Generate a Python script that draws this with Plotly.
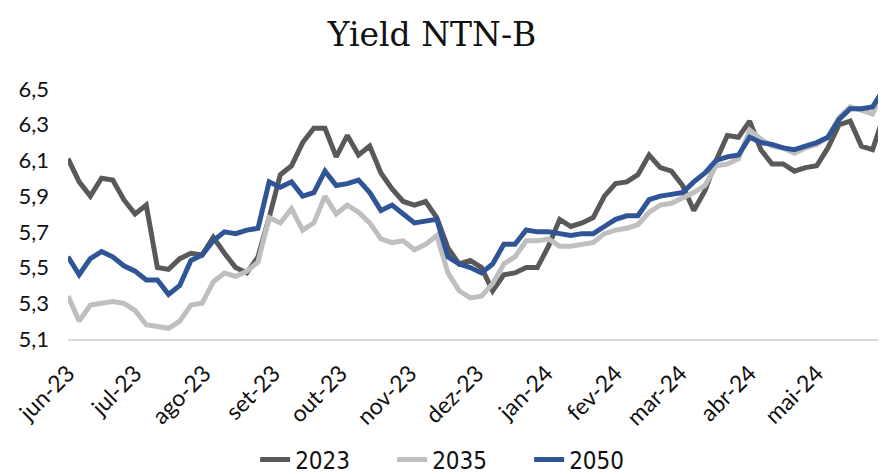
#%%
# Yield NTN-B: 2023, 2035, 2050
#%%
import pandas as pd
import plotly.graph_objects as go

# dates: one point every 5 days, plus the last day of the window
datas = list(pd.date_range("2023-06-01", "2024-05-31", freq="5D")) + [pd.Timestamp("2024-05-31")]

ntnb_2023 = [6.11, 5.98, 5.90, 6.00, 5.99, 5.88, 5.80, 5.85, 5.50, 5.49,
             5.55, 5.58, 5.57, 5.67, 5.58, 5.50, 5.47, 5.56, 5.78, 6.02,
             6.07, 6.20, 6.28, 6.28, 6.12, 6.24, 6.13, 6.18, 6.03, 5.94,
             5.87, 5.85, 5.87, 5.78, 5.61, 5.52, 5.54, 5.50, 5.37, 5.46,
             5.47, 5.50, 5.50, 5.62, 5.77, 5.73, 5.75, 5.78, 5.90, 5.97,
             5.98, 6.02, 6.13, 6.06, 6.04, 5.96, 5.82, 5.93, 6.10, 6.24,
             6.23, 6.32, 6.16, 6.08, 6.08, 6.04, 6.06, 6.07, 6.17, 6.30,
             6.32, 6.18, 6.16, 6.35]

ntnb_2035 = [5.34, 5.20, 5.29, 5.30, 5.31, 5.30, 5.26, 5.18, 5.17, 5.16,
             5.20, 5.29, 5.30, 5.42, 5.47, 5.45, 5.48, 5.53, 5.78, 5.75,
             5.83, 5.71, 5.75, 5.90, 5.80, 5.85, 5.81, 5.75, 5.66, 5.64,
             5.65, 5.60, 5.63, 5.68, 5.47, 5.37, 5.33, 5.34, 5.41, 5.52,
             5.56, 5.65, 5.65, 5.66, 5.62, 5.62, 5.63, 5.64, 5.69, 5.71,
             5.72, 5.74, 5.81, 5.85, 5.86, 5.89, 5.92, 5.96, 6.07, 6.08,
             6.11, 6.27, 6.22, 6.18, 6.17, 6.14, 6.17, 6.19, 6.23, 6.34,
             6.40, 6.38, 6.36, 6.50]

ntnb_2050 = [5.56, 5.46, 5.55, 5.59, 5.56, 5.51, 5.48, 5.43, 5.43, 5.35,
             5.40, 5.54, 5.57, 5.65, 5.70, 5.69, 5.71, 5.72, 5.98, 5.95,
             5.98, 5.90, 5.92, 6.04, 5.96, 5.97, 5.99, 5.92, 5.82, 5.85,
             5.80, 5.75, 5.76, 5.77, 5.56, 5.52, 5.50, 5.47, 5.52, 5.63,
             5.63, 5.71, 5.70, 5.70, 5.69, 5.68, 5.69, 5.69, 5.73, 5.77,
             5.79, 5.79, 5.88, 5.90, 5.91, 5.92, 5.98, 6.03, 6.10, 6.12,
             6.13, 6.23, 6.20, 6.19, 6.17, 6.16, 6.18, 6.20, 6.23, 6.33,
             6.39, 6.39, 6.40, 6.50]

meses = ["jun-23", "jul-23", "ago-23", "set-23", "out-23", "nov-23",
         "dez-23", "jan-24", "fev-24", "mar-24", "abr-24", "mai-24"]
meses_pos = list(pd.date_range("2023-06-01", "2024-05-01", freq="MS"))

y_ticks = [5.1, 5.3, 5.5, 5.7, 5.9, 6.1, 6.3, 6.5]
y_text = [f"{v:.1f}".replace(".", ",") for v in y_ticks]

fig = go.Figure()

fig.add_trace(go.Scatter(x=datas, y=ntnb_2023, mode='lines', name='2023',
                         line=dict(color='#595959', width=5), cliponaxis=False))
fig.add_trace(go.Scatter(x=datas, y=ntnb_2035, mode='lines', name='2035',
                         line=dict(color='#BFBFBF', width=5), cliponaxis=False))
fig.add_trace(go.Scatter(x=datas, y=ntnb_2050, mode='lines', name='2050',
                         line=dict(color='#2F5597', width=5), cliponaxis=False))

# the page body keeps an 8px margin, so the figure is 8px smaller than the window
fig.update_layout(
    width=878,
    height=466,
    margin=dict(l=60, r=0, t=81, b=135),
    paper_bgcolor='white',
    plot_bgcolor='white',
    title=dict(text='Yield NTN-B', x=0.483, xanchor='center', y=0.944, yanchor='middle',
               font=dict(family='DejaVu Serif', size=33, color='#111111')),
    xaxis=dict(
        range=[pd.Timestamp("2023-06-01"), pd.Timestamp("2024-06-01")],
        tickvals=meses_pos, ticktext=meses, tickangle=-45,
        showgrid=False, zeroline=False, automargin=False,
        showline=True, linecolor='#D9D9D9', linewidth=1.5,
        ticks='', ticklabelstandoff=10,
        tickfont=dict(family='Lato', size=23, color='#111111'),
    ),
    yaxis=dict(
        range=[5.1, 6.5], tickvals=y_ticks, ticktext=y_text,
        showgrid=False, zeroline=False, showline=False, automargin=False,
        ticks='', ticklabelstandoff=18,
        tickfont=dict(family='Lato', size=22, color='#111111'),
    ),
    legend=dict(
        orientation='h', x=0.48, xanchor='center',
        yref='container', y=0.03, yanchor='middle',
        font=dict(family='Liberation Sans Narrow, DejaVu Sans Condensed, sans-serif',
                  size=24, color='#111111'),
        entrywidth=92, entrywidthmode='pixels', tracegroupgap=0,
    ),
)

fig.write_html("out.html")
